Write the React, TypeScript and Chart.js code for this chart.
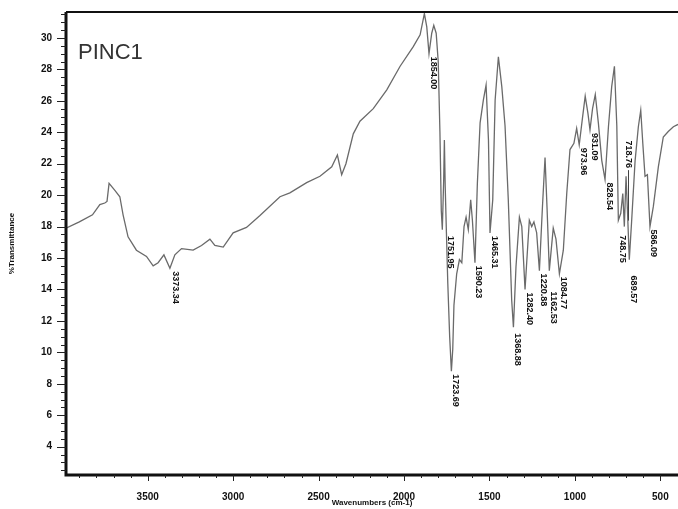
import React, { useEffect, useRef } from "react";
import { Chart, registerables } from "chart.js";

Chart.register(...registerables);

// Wavenumbers (cm-1), descending
const wavenumbers = [
  3978, 3900, 3823, 3780, 3751, 3738, 3726, 3692, 3663, 3644, 3615, 3566, 3507, 3468, 3439, 3405,
  3370, 3341, 3302, 3234, 3185, 3136, 3107, 3058, 3000, 2922, 2843, 2726, 2668, 2570, 2492, 2423,
  2390, 2365, 2340, 2297, 2258, 2180, 2101, 2023, 1946, 1906, 1881, 1867, 1854, 1838, 1826, 1812,
  1800, 1790, 1782, 1776, 1768, 1764, 1759, 1752, 1744, 1733, 1723, 1715, 1708, 1692, 1676, 1662,
  1649, 1637, 1624, 1610, 1600, 1585, 1571, 1555, 1536, 1520, 1506, 1497, 1481, 1467, 1448, 1428,
  1409, 1390, 1370, 1360, 1345, 1325, 1311, 1292, 1267, 1253, 1240, 1224, 1208, 1190, 1175, 1163,
  1150, 1127, 1111, 1091, 1068, 1048, 1029, 1006, 990, 975, 955, 940, 924, 912, 897, 881,
  863, 843, 824, 804, 785, 769, 755, 746, 732, 720, 711, 701, 693, 682, 668, 648,
  629, 615, 603, 590, 576, 561, 541, 512, 483, 454, 424, 397,
];

// % Transmittance
const transmittance = [
  17.9, 18.3, 18.75, 19.4, 19.5, 19.6, 20.75, 20.3, 19.9, 18.75, 17.35, 16.5, 16.1, 15.5, 15.7, 16.2,
  15.35, 16.2, 16.6, 16.5, 16.8, 17.2, 16.8, 16.7, 17.6, 17.95, 18.7, 19.9, 20.15, 20.8, 21.2, 21.8,
  22.55, 21.3, 22.0, 23.9, 24.7, 25.5, 26.7, 28.2, 29.45, 30.2, 31.55, 30.7, 29.0, 30.3, 30.8, 30.3,
  28.5, 24.0, 19.0, 17.8, 21.0, 23.5, 20.5, 17.6, 14.4, 11.0, 8.8, 10.2, 13.0, 15.0, 15.9, 15.7,
  18.0, 18.6, 17.8, 19.7, 18.4, 15.7, 20.75, 24.6, 26.05, 27.0, 23.5, 17.6, 19.7, 26.05, 28.8, 26.9,
  24.4, 19.7, 13.3, 11.6, 15.45, 18.6, 18.0, 14.0, 18.4, 18.0, 18.3, 17.6, 15.2, 19.3, 22.4, 19.1,
  15.2, 17.9, 17.2, 15.0, 16.5, 20.1, 22.9, 23.3, 24.25, 23.2, 25.0, 26.3, 25.2, 24.15, 25.5, 26.4,
  24.6, 22.2, 21.0, 24.35, 26.9, 28.2, 24.4, 18.4, 18.85, 20.1, 18.0, 21.2, 19.1, 15.9, 18.4, 22.2,
  24.35, 25.4, 23.3, 21.2, 21.3, 18.0, 19.3, 21.8, 23.7, 24.05, 24.35, 24.5,
];

// Peak labels and the wavenumber of the minimum they mark
const peakLabels = [
  "3373.34", "1854.00", "1751.95", "1723.69", "1590.23", "1465.31", "1368.88", "1282.40", "1220.88",
  "1162.53", "1084.77", "973.96", "931.09", "828.54", "748.75", "718.76", "689.57", "586.09",
];
const peakPositions = [
  3370, 1854, 1752, 1723, 1585, 1497, 1360, 1292, 1208, 1150, 1091, 975, 912, 824, 746, 711, 682, 561,
];

const xTicks = [3500, 3000, 2500, 2000, 1500, 1000, 500];
const yTicks = [4, 6, 8, 10, 12, 14, 16, 18, 20, 22, 24, 26, 28, 30];

const sampleName = "PINC1";
const xTitle = "Wavenumbers (cm-1)";
const yTitle = "%Transmittance";

// label placement tweaks (pixels), styling only
const labelDy: Record<string, number> = {
  "1162.53": 18,
  "748.75": 12,
  "689.57": 13,
  "1368.88": 3,
};
const labelDx: Record<string, number> = {
  "3373.34": 6,
};
const labelAbove = "718.76";

const X_MIN = 397;
const X_MAX = 3978;
const Y_MIN = 2.2;
const Y_MAX = 31.65;

export default function App() {
  const canvasRef = useRef<HTMLCanvasElement | null>(null);

  useEffect(() => {
    const canvas = canvasRef.current;
    if (!canvas) return;

    const points = wavenumbers.map((w, i) => ({ x: w, y: transmittance[i] }));

    const decor = {
      id: "decor",
      afterDraw(chart: any) {
        const ctx = chart.ctx as CanvasRenderingContext2D;
        const ca = chart.chartArea;
        const xs = chart.scales.x;
        const ys = chart.scales.y;
        ctx.save();

        // frame
        ctx.strokeStyle = "#111";
        ctx.lineWidth = 3;
        ctx.beginPath();
        ctx.moveTo(ca.left, ca.top);
        ctx.lineTo(ca.left, ca.bottom);
        ctx.lineTo(ca.right, ca.bottom);
        ctx.stroke();
        ctx.lineWidth = 2;
        ctx.beginPath();
        ctx.moveTo(ca.left, ca.top);
        ctx.lineTo(ca.right, ca.top);
        ctx.stroke();

        // y ticks
        ctx.lineWidth = 1;
        ctx.strokeStyle = "#222";
        for (let v = 2.5; v <= Y_MAX; v += 0.5) {
          const py = Math.round(ys.getPixelForValue(v)) + 0.5;
          const major = Math.abs(v - Math.round(v / 2) * 2) < 1e-6;
          ctx.beginPath();
          ctx.moveTo(ca.left - (major ? 9 : 5), py);
          ctx.lineTo(ca.left, py);
          ctx.stroke();
        }
        // x ticks
        for (let v = 500; v <= X_MAX; v += 100) {
          const px = Math.round(xs.getPixelForValue(v)) + 0.5;
          const major = v % 500 === 0;
          ctx.beginPath();
          ctx.moveTo(px, ca.bottom);
          ctx.lineTo(px, ca.bottom + (major ? 6 : 3));
          ctx.stroke();
        }

        // sample name
        ctx.fillStyle = "#333";
        ctx.font = "22px 'Liberation Sans', Arial, sans-serif";
        ctx.textAlign = "left";
        ctx.textBaseline = "alphabetic";
        ctx.fillText(sampleName, 78, 59);

        // peak labels
        ctx.font = "bold 9px 'Liberation Sans', Arial, sans-serif";
        ctx.fillStyle = "#111";
        ctx.textBaseline = "middle";
        peakLabels.forEach((txt, i) => {
          const w = peakPositions[i];
          let best = 0;
          for (let k = 0; k < wavenumbers.length; k++) {
            if (Math.abs(wavenumbers[k] - w) < Math.abs(wavenumbers[best] - w)) best = k;
          }
          const px = xs.getPixelForValue(wavenumbers[best]);
          const py = ys.getPixelForValue(transmittance[best]);
          const tw = ctx.measureText(txt).width;
          let top = py + 3 + (labelDy[txt] || 0);
          const lx = px + (labelDx[txt] ?? 4);
          if (txt === labelAbove) {
            top = py - 86;
            ctx.strokeStyle = "#444";
            ctx.lineWidth = 1;
            ctx.beginPath();
            ctx.moveTo(Math.round(lx) + 0.5, top + tw + 2);
            ctx.lineTo(Math.round(lx) + 0.5, py - 6);
            ctx.stroke();
          }
          ctx.save();
          ctx.translate(lx, top);
          ctx.rotate(Math.PI / 2);
          ctx.textAlign = "left";
          ctx.fillText(txt, 0, 0);
          ctx.restore();
        });

        ctx.restore();
      },
    };

    const chart = new Chart(canvas, {
      type: "scatter",
      data: {
        datasets: [
          {
            data: points,
            showLine: true,
            borderColor: "#6a6a6a",
            borderWidth: 1.3,
            pointRadius: 0,
            tension: 0,
            fill: false,
          },
        ],
      },
      options: {
        animation: false,
        responsive: false,
        maintainAspectRatio: false,
        layout: { padding: { top: 12, right: 0, bottom: 0, left: 0 } },
        plugins: {
          legend: { display: false },
          tooltip: { enabled: false },
        },
        scales: {
          x: {
            type: "linear",
            reverse: true,
            min: X_MIN,
            max: X_MAX,
            grid: { display: false },
            border: { display: false },
            afterBuildTicks: (s: any) => {
              s.ticks = xTicks.map((v) => ({ value: v }));
            },
            afterFit: (s: any) => {
              s.height = 34;
            },
            ticks: {
              autoSkip: false,
              maxRotation: 0,
              padding: 8,
              color: "#111",
              font: { family: "'Liberation Sans', Arial, sans-serif", size: 10, weight: "bold" },
              callback: (v: any) => String(v),
            },
            title: {
              display: true,
              text: xTitle,
              color: "#111",
              padding: { top: 0, bottom: 1 },
              font: { family: "'Liberation Sans', Arial, sans-serif", size: 8, weight: "bold" },
            },
          },
          y: {
            type: "linear",
            min: Y_MIN,
            max: Y_MAX,
            grid: { display: false },
            border: { display: false },
            afterBuildTicks: (s: any) => {
              s.ticks = yTicks.map((v) => ({ value: v }));
            },
            afterFit: (s: any) => {
              s.width = 66;
            },
            ticks: {
              autoSkip: false,
              padding: 6,
              color: "#111",
              font: { family: "'Liberation Sans', Arial, sans-serif", size: 10, weight: "bold" },
              callback: (v: any) => String(v),
            },
            title: {
              display: true,
              text: yTitle,
              color: "#111",
              padding: { top: 7, bottom: 0 },
              font: { family: "'Liberation Sans', Arial, sans-serif", size: 8, weight: "bold" },
            },
          },
        },
      },
      plugins: [decor],
    } as any);

    return () => chart.destroy();
  }, []);

  return (
    <div style={{ position: "fixed", left: 0, top: 0, width: 678, height: 509, background: "#fff" }}>
      <canvas ref={canvasRef} width={678} height={509} style={{ display: "block" }} />
    </div>
  );
}
